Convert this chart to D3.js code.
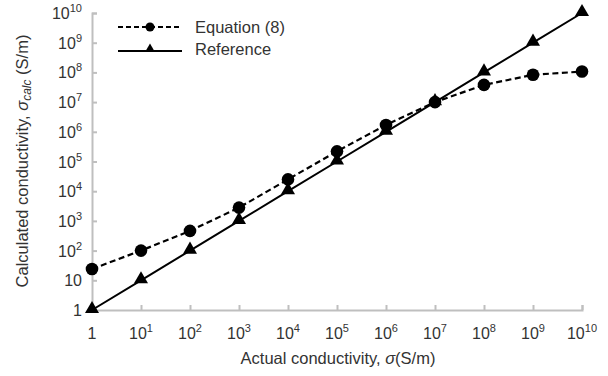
<!DOCTYPE html>
<html>
<head>
<meta charset="utf-8">
<script src="https://cdn.jsdelivr.net/npm/d3@7"></script>
<style>
  body { margin: 0; background: #fff; }
  svg { display: block; font-family: "Liberation Sans", Arial, sans-serif; }
</style>
</head>
<body>
<svg id="chart" width="608" height="376"></svg>
<script>
// Actual conductivity (S/m), shared by both series
const actual = [1, 1e1, 1e2, 1e3, 1e4, 1e5, 1e6, 1e7, 1e8, 1e9, 1e10];
// Conductivity calculated with Equation (8)
const equation8 = [24, 100, 460, 2800, 2.5e4, 2.2e5, 1.7e6, 1.0e7, 3.8e7, 8.3e7, 1.07e8];
// Reference line (calculated = actual)
const reference = [1, 1e1, 1e2, 1e3, 1e4, 1e5, 1e6, 1e7, 1e8, 1e9, 1e10];
// Tick labels: [base text, superscript]
const xTickLabels = [["1",""],["10","1"],["10","2"],["10","3"],["10","4"],["10","5"],["10","6"],["10","7"],["10","8"],["10","9"],["10","10"]];
const yTickLabels = [["1",""],["10",""],["10","2"],["10","3"],["10","4"],["10","5"],["10","6"],["10","7"],["10","8"],["10","9"],["10","10"]];
const seriesNames = ["Equation (8)", "Reference"];

const svg = d3.select("#chart");
const plot = { left: 92, right: 582, top: 13, bottom: 310 };

const x = d3.scaleLog().domain([1, 1e10]).range([plot.left, plot.right]);
const y = d3.scaleLog().domain([1, 1e10]).range([plot.bottom, plot.top]);

const axisColor = "#bfbfbf";
const textColor = "#333";
const fs = 16.5;

// Axes
const xAxis = svg.append("g").attr("transform", `translate(0,${plot.bottom})`)
  .call(d3.axisBottom(x).tickValues(actual).tickSize(-5).tickFormat(""));
const yAxis = svg.append("g").attr("transform", `translate(${plot.left},0)`)
  .call(d3.axisLeft(y).tickValues(reference).tickSize(-5).tickFormat(""));
[xAxis, yAxis].forEach(g => {
  g.select(".domain").attr("stroke", axisColor).attr("stroke-width", 2);
  g.selectAll(".tick line").attr("stroke", axisColor).attr("stroke-width", 2);
});

// Tick labels with superscript exponents
function tickText(sel, parts) {
  sel.append("tspan").text(parts[0]);
  if (parts[1]) sel.append("tspan").attr("dy", -7).attr("font-size", 11).text(parts[1]);
}
actual.forEach((v, i) => {
  const t = svg.append("text").attr("x", x(v)).attr("y", plot.bottom + 29)
    .attr("text-anchor", "middle").attr("font-size", 16).attr("fill", textColor);
  tickText(t, xTickLabels[i]);
});
reference.forEach((v, i) => {
  const t = svg.append("text").attr("x", plot.left - 10).attr("y", y(v) + 6)
    .attr("text-anchor", "end").attr("font-size", 16).attr("fill", textColor);
  tickText(t, yTickLabels[i]);
});

// Axis titles
const xt = svg.append("text").attr("x", 338).attr("y", 364)
  .attr("text-anchor", "middle").attr("font-size", fs).attr("fill", textColor);
xt.append("tspan").text("Actual conductivity, ");
xt.append("tspan").attr("font-style", "italic").text("σ");
xt.append("tspan").text("(S/m)");

const yt = svg.append("text").attr("transform", "translate(28,161) rotate(-90)")
  .attr("text-anchor", "middle").attr("font-size", fs).attr("fill", textColor);
yt.append("tspan").text("Calculated conductivity, ");
yt.append("tspan").attr("font-style", "italic").text("σ");
yt.append("tspan").attr("font-style", "italic").attr("font-size", 12).attr("dy", 3).text("calc");
yt.append("tspan").attr("dy", -3).text(" (S/m)");

// Lines
const line = d3.line().x(d => x(d[0])).y(d => y(d[1]));
const eqData = actual.map((a, i) => [a, equation8[i]]);
const refData = actual.map((a, i) => [a, reference[i]]);

svg.append("path").datum(refData).attr("d", line)
  .attr("fill", "none").attr("stroke", "#000").attr("stroke-width", 2);
svg.append("path").datum(eqData).attr("d", line)
  .attr("fill", "none").attr("stroke", "#000").attr("stroke-width", 2.2)
  .attr("stroke-dasharray", "6,3.5");

const tri = d3.symbol().type(d3.symbolTriangle);
svg.selectAll(".tri").data(refData).join("path")
  .attr("transform", d => `translate(${x(d[0])},${y(d[1]) - 1})`)
  .attr("d", tri.size(85)).attr("fill", "#000");
svg.selectAll(".dot").data(eqData).join("circle")
  .attr("cx", d => x(d[0])).attr("cy", d => y(d[1])).attr("r", 6.3).attr("fill", "#000");

// Legend
const lg = svg.append("g");
lg.append("line").attr("x1", 118).attr("x2", 182).attr("y1", 27).attr("y2", 27)
  .attr("stroke", "#000").attr("stroke-width", 2).attr("stroke-dasharray", "5,3");
lg.append("circle").attr("cx", 150).attr("cy", 27).attr("r", 4.5).attr("fill", "#000");
lg.append("text").attr("x", 195).attr("y", 33).attr("font-size", fs).attr("fill", textColor).text(seriesNames[0]);
lg.append("line").attr("x1", 118).attr("x2", 182).attr("y1", 51).attr("y2", 51)
  .attr("stroke", "#000").attr("stroke-width", 2);
lg.append("path").attr("transform", "translate(150,49)").attr("d", tri.size(40)).attr("fill", "#000");
lg.append("text").attr("x", 195).attr("y", 55).attr("font-size", fs).attr("fill", textColor).text(seriesNames[1]);
</script>
</body>
</html>
